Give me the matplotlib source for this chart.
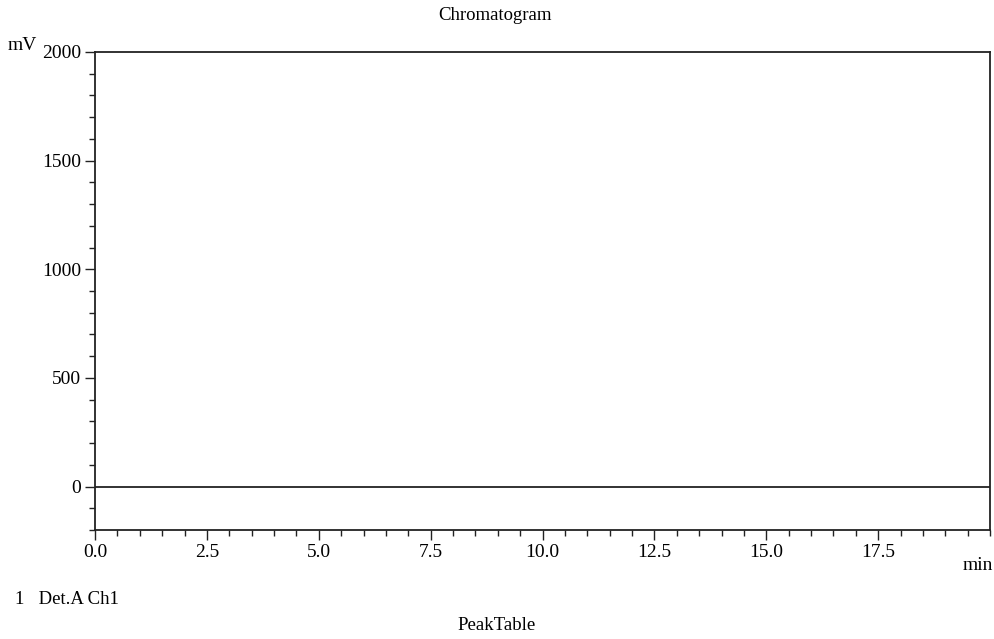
import matplotlib
matplotlib.use("Agg")
import matplotlib.pyplot as plt
from matplotlib.ticker import MultipleLocator

plt.rcParams['font.family'] = ['Liberation Serif', 'DejaVu Serif']

time_min = [0.0, 20.0]
signal_mv = [0.0, 0.0]
x_ticks = [0.0, 2.5, 5.0, 7.5, 10.0, 12.5, 15.0, 17.5]
y_ticks = [0, 500, 1000, 1500, 2000]

fig = plt.figure(figsize=(9.95, 6.39), dpi=100)
ax = fig.add_axes([95/995, 1-530/639, (990-95)/995, (530-52)/639])
ax.plot(time_min, signal_mv, color='#222222', lw=1.3)
ax.set_xlim(0, 20)
ax.set_ylim(-200, 2000)
ax.set_xticks(x_ticks)
ax.set_xticklabels([f"{v:.1f}" for v in x_ticks])
ax.set_yticks(y_ticks)
ax.set_yticklabels([str(v) for v in y_ticks])
ax.xaxis.set_minor_locator(MultipleLocator(0.5))
ax.yaxis.set_minor_locator(MultipleLocator(100))
ax.tick_params(which='major', length=7, width=1.0, labelsize=14, color='#222222', pad=3)
ax.tick_params(which='minor', length=4, width=1.0, color='#222222')
for s in ax.spines.values():
    s.set_linewidth(1.3)
    s.set_color('#222222')

fig.text(495/995, 1-15/639, "Chromatogram", ha='center', va='center', fontsize=13.5)
fig.text(8/995, 1-45/639, "mV", ha='left', va='center', fontsize=14)
fig.text(993/995, 1-566/639, "min", ha='right', va='center', fontsize=14)
fig.text(15/995, 1-600/639, "1   Det.A Ch1", ha='left', va='center', fontsize=13.5)
fig.text(497/995, 1-626/639, "PeakTable", ha='center', va='center', fontsize=13.5)

fig.savefig("out.png", dpi=100)
